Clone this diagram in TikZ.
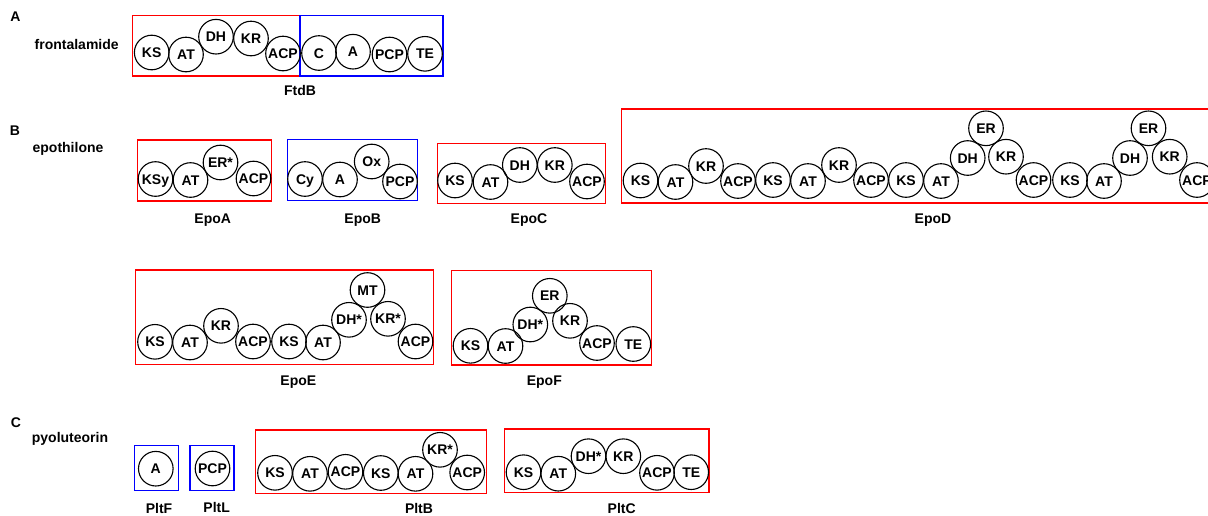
\documentclass[tikz,border=0pt]{standalone}
\usepackage{fontspec}
\setmainfont{Liberation Sans}
\begin{document}
\begin{tikzpicture}[x=1pt,y=-1pt,
  dom/.style={circle,draw=black,line width=1.1pt,minimum size=34.6pt,inner sep=0pt,
    font=\bfseries\fontsize{14}{15}\selectfont,text height=10pt,text depth=0pt},
  lbl/.style={inner sep=0pt,font=\bfseries\fontsize{14}{15}\selectfont,text height=10pt,text depth=0pt},
  pks/.style={draw=red,line width=1.2pt},
  nrps/.style={draw=blue,line width=1.2pt}]
\useasboundingbox (0,0) rectangle (1208,515);
\clip (0,0) rectangle (1208,515);
% ---------- A ----------
\node[lbl] (secA) at (15.5,16.7) {A};
\node[lbl] (frontalamide) at (76.7,44.3) {frontalamide};
\draw[pks] (132.5,15.5) rectangle (300,76);
\draw[nrps] (300,15.5) rectangle (443,76);
\node[dom] (a1) at (151.7,52.5) {KS};
\node[dom] (a2) at (186,54.5) {AT};
\node[dom] (a3) at (216,36.7) {DH};
\node[dom] (a4) at (251,38.5) {KR};
\node[dom] (a5) at (283,53.5) {ACP};
\node[dom] (a6) at (319,53) {C};
\node[dom] (a7) at (353,51.7) {A};
\node[dom] (a8) at (389.5,54.5) {PCP};
\node[dom] (a9) at (425,53.8) {TE};
\node[lbl] (ftdb) at (300,90) {FtdB};
% ---------- B ----------
\node[lbl] (secB) at (15,130) {B};
\node[lbl] (epothilone) at (68,147) {epothilone};
% EpoA
\draw[pks] (137.3,140) rectangle (271.7,201);
\node[dom] (pa1) at (155.5,179) {KSy};
\node[dom] (pa2) at (190.5,180) {AT};
\node[dom] (pa3) at (220.5,162.5) {ER*};
\node[dom] (pa4) at (253.5,178.5) {ACP};
\node[lbl] (epoa) at (212.7,218) {EpoA};
% EpoB
\draw[nrps] (287.3,139.3) rectangle (417.3,200.3);
\node[dom] (pb1) at (305,179) {Cy};
\node[dom] (pb2) at (340,179.5) {A};
\node[dom] (pb3) at (371.7,161.5) {Ox};
\node[dom] (pb4) at (400,181.5) {PCP};
\node[lbl] (epob) at (362.7,218) {EpoB};
% EpoC
\draw[pks] (437.3,143.3) rectangle (605.7,203.7);
\node[dom] (pc1) at (455,180.5) {KS};
\node[dom] (pc2) at (490.5,182) {AT};
\node[dom] (pc3) at (519.8,165) {DH};
\node[dom] (pc4) at (554.8,165) {KR};
\node[dom] (pc5) at (587,181.5) {ACP};
\node[lbl] (epoc) at (529,218) {EpoC};
% EpoD
\draw[pks] (621.7,109) rectangle (1230,203);
\node[dom] (d1) at (640.5,180.5) {KS};
\node[dom] (d2) at (675.5,182) {AT};
\node[dom] (d3) at (706,166) {KR};
\node[dom] (d4) at (738,181) {ACP};
\node[dom] (d5) at (773,180) {KS};
\node[dom] (d6) at (808,181) {AT};
\node[dom] (d7) at (839,165) {KR};
\node[dom] (d8) at (871,180) {ACP};
\node[dom] (d9) at (906,180) {KS};
\node[dom] (d10) at (941,181) {AT};
\node[dom] (d11) at (967.7,158) {DH};
\node[dom] (d12) at (986,128.3) {ER};
\node[dom] (d13) at (1006,156.7) {KR};
\node[dom] (d14) at (1033.5,180) {ACP};
\node[dom] (d15) at (1070,180) {KS};
\node[dom] (d16) at (1104,181) {AT};
\node[dom] (d17) at (1130,158) {DH};
\node[dom] (d18) at (1148.5,128.3) {ER};
\node[dom] (d19) at (1169.7,156.7) {KR};
\node[dom] (d20) at (1197,180) {ACP};
\node[lbl] (epod) at (933,218.3) {EpoD};
% EpoE
\draw[pks] (135.7,270) rectangle (433.3,364.3);
\node[dom] (e1) at (155,341.8) {KS};
\node[dom] (e2) at (190,342.5) {AT};
\node[dom] (e3) at (221,325.8) {KR};
\node[dom] (e4) at (253,341.5) {ACP};
\node[dom] (e5) at (289,341.5) {KS};
\node[dom] (e6) at (323,342.5) {AT};
\node[dom] (e7) at (349,319.8) {DH*};
\node[dom] (e8) at (367.5,290) {MT};
\node[dom] (e9) at (388,318.8) {KR*};
\node[dom] (e10) at (415.5,341.5) {ACP};
\node[lbl] (epoe) at (298.3,380) {EpoE};
% EpoF
\draw[pks] (451.7,270.7) rectangle (651.7,365);
\node[dom] (f1) at (470.5,345.8) {KS};
\node[dom] (f2) at (505.5,346) {AT};
\node[dom] (f3) at (530.3,324.5) {DH*};
\node[dom] (f4) at (549.8,295.8) {ER};
\node[dom] (f5) at (570,320.8) {KR};
\node[dom] (f6) at (597,343) {ACP};
\node[dom] (f7) at (633.3,344) {TE};
\node[lbl] (epof) at (544.3,380.7) {EpoF};
% ---------- C ----------
\node[lbl] (secC) at (16,422) {C};
\node[lbl] (pyoluteorin) at (70,437.5) {pyoluteorin};
% PltF
\draw[nrps] (134.3,445.7) rectangle (178.3,490.7);
\node[dom] (pf1) at (155.8,468.7) {A};
\node[lbl] (pltf) at (159,508.3) {PltF};
% PltL
\draw[nrps] (190,445.7) rectangle (234,490.7);
\node[dom] (pl1) at (212.5,468.5) {PCP};
\node[lbl] (pltl) at (216.7,507.8) {PltL};
% PltB
\draw[pks] (255.7,430) rectangle (486.7,493.3);
\node[dom] (b1) at (275,472.8) {KS};
\node[dom] (b2) at (310,473.8) {AT};
\node[dom] (b3) at (345.5,471.8) {ACP};
\node[dom] (b4) at (380.8,473) {KS};
\node[dom] (b5) at (415.5,473.8) {AT};
\node[dom] (b6) at (440,449.8) {KR*};
\node[dom] (b7) at (467.2,472.5) {ACP};
\node[lbl] (pltb) at (419,508.3) {PltB};
% PltC
\draw[pks] (504.3,429) rectangle (709,492.7);
\node[dom] (c1) at (523.5,472.2) {KS};
\node[dom] (c2) at (558.3,473.7) {AT};
\node[dom] (c3) at (588.5,456.2) {DH*};
\node[dom] (c4) at (623.3,456.2) {KR};
\node[dom] (c5) at (657,472.8) {ACP};
\node[dom] (c6) at (691.2,472.2) {TE};
\node[lbl] (pltc) at (621.7,508.3) {PltC};
\end{tikzpicture}
\end{document}
